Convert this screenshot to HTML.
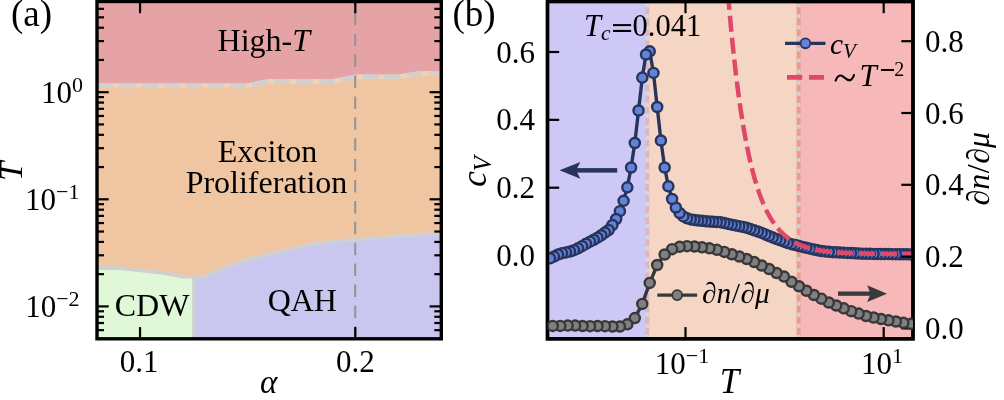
<!DOCTYPE html>
<html><head><meta charset="utf-8"><style>
html,body{margin:0;padding:0;background:#fff;}
body{width:1004px;height:400px;overflow:hidden;}
svg{display:block;will-change:transform;}
</style></head><body>
<svg width="1004" height="400" viewBox="0 0 1004 400">
<rect x="0" y="0" width="1004" height="400" fill="#ffffff"/>
<defs><clipPath id="clipA"><rect x="97.00" y="1.50" width="344.30" height="337.30"/></clipPath><clipPath id="clipB"><rect x="547.50" y="1.50" width="365.50" height="337.30"/></clipPath></defs>
<g clip-path="url(#clipA)">
<polygon fill="#e5a3a5" points="97.00,0.00 97.00,85.50 247.60,85.50 269.20,81.30 333.80,81.30 355.30,76.90 398.40,76.90 419.90,73.30 441.40,73.30 441.40,0.00"/>
<polygon fill="#f0c5a2" points="97.00,85.50 247.60,85.50 269.20,81.30 333.80,81.30 355.30,76.90 398.40,76.90 419.90,73.30 441.40,73.30 441.40,233.60 419.90,234.70 398.40,235.90 376.80,237.60 355.30,239.60 333.80,241.60 312.30,243.80 290.70,249.30 269.20,254.10 247.60,259.60 226.10,267.10 204.50,276.80 183.00,276.60 161.50,272.70 140.00,270.30 118.50,267.90 97.00,268.00"/>
<polygon fill="#e0f8d7" points="97.00,268.00 118.50,267.90 140.00,270.30 161.50,272.70 183.00,276.60 194.20,276.70 194.20,340.00 97.00,340.00"/>
<polygon fill="#c9c6f0" points="194.20,276.70 204.50,276.80 226.10,267.10 247.60,259.60 269.20,254.10 290.70,249.30 312.30,243.80 333.80,241.60 355.30,239.60 376.80,237.60 398.40,235.90 419.90,234.70 441.40,233.60 441.40,340.00 194.20,340.00"/>
<polyline fill="none" stroke="#d0d0d0" stroke-width="3.8" stroke-linejoin="round" points="97.00,268.00 118.50,267.90 140.00,270.30 161.50,272.70 183.00,276.60 204.50,276.80 226.10,267.10 247.60,259.60 269.20,254.10 290.70,249.30 312.30,243.80 333.80,241.60 355.30,239.60 376.80,237.60 398.40,235.90 419.90,234.70 441.40,233.60"/>
<line x1="194.20" y1="276.7" x2="194.20" y2="340" stroke="#d0d0d0" stroke-width="4"/>
<polyline fill="none" stroke="#efd3b8" stroke-width="4.7" points="97.00,85.50 247.60,85.50 269.20,81.30 333.80,81.30 355.30,76.90 398.40,76.90 419.90,73.30 441.40,73.30"/>
<polyline fill="none" stroke="#d0d0d0" stroke-width="4.7" stroke-dasharray="16 6.2" points="97.00,85.50 247.60,85.50 269.20,81.30 333.80,81.30 355.30,76.90 398.40,76.90 419.90,73.30 441.40,73.30"/>
<line x1="355.2" y1="338.8" x2="355.2" y2="1.5" stroke="#959595" stroke-width="2.1" stroke-dasharray="12.5 8.4"/>
</g>
<text x="263.80" y="50.60" font-family="'Liberation Serif', serif" font-size="32.00" text-anchor="middle" style="" >High-<tspan font-style="italic">T</tspan></text>
<text x="267.50" y="162.30" font-family="'Liberation Serif', serif" font-size="32.00" text-anchor="middle" style="" >Exciton</text>
<text x="266.50" y="192.70" font-family="'Liberation Serif', serif" font-size="32.00" text-anchor="middle" style="" >Proliferation</text>
<text x="152.00" y="315.60" font-family="'Liberation Serif', serif" font-size="32.00" text-anchor="middle" style="" >CDW</text>
<text x="302.30" y="310.90" font-family="'Liberation Serif', serif" font-size="32.00" text-anchor="middle" style="" >QAH</text>
<line x1="140.05" y1="338.80" x2="140.05" y2="327.10" stroke="#000000" stroke-width="2.20"/><line x1="140.05" y1="1.50" x2="140.05" y2="13.20" stroke="#000000" stroke-width="2.20"/><line x1="355.30" y1="338.80" x2="355.30" y2="327.10" stroke="#000000" stroke-width="2.20"/><line x1="355.30" y1="1.50" x2="355.30" y2="13.20" stroke="#000000" stroke-width="2.20"/><line x1="97.00" y1="330.16" x2="104.00" y2="330.16" stroke="#000000" stroke-width="2.20"/><line x1="441.30" y1="330.16" x2="434.30" y2="330.16" stroke="#000000" stroke-width="2.20"/><line x1="97.00" y1="322.99" x2="104.00" y2="322.99" stroke="#000000" stroke-width="2.20"/><line x1="441.30" y1="322.99" x2="434.30" y2="322.99" stroke="#000000" stroke-width="2.20"/><line x1="97.00" y1="316.78" x2="104.00" y2="316.78" stroke="#000000" stroke-width="2.20"/><line x1="441.30" y1="316.78" x2="434.30" y2="316.78" stroke="#000000" stroke-width="2.20"/><line x1="97.00" y1="311.30" x2="104.00" y2="311.30" stroke="#000000" stroke-width="2.20"/><line x1="441.30" y1="311.30" x2="434.30" y2="311.30" stroke="#000000" stroke-width="2.20"/><line x1="97.00" y1="306.40" x2="108.70" y2="306.40" stroke="#000000" stroke-width="2.20"/><line x1="441.30" y1="306.40" x2="429.60" y2="306.40" stroke="#000000" stroke-width="2.20"/><line x1="97.00" y1="274.16" x2="104.00" y2="274.16" stroke="#000000" stroke-width="2.20"/><line x1="441.30" y1="274.16" x2="434.30" y2="274.16" stroke="#000000" stroke-width="2.20"/><line x1="97.00" y1="255.30" x2="104.00" y2="255.30" stroke="#000000" stroke-width="2.20"/><line x1="441.30" y1="255.30" x2="434.30" y2="255.30" stroke="#000000" stroke-width="2.20"/><line x1="97.00" y1="241.92" x2="104.00" y2="241.92" stroke="#000000" stroke-width="2.20"/><line x1="441.30" y1="241.92" x2="434.30" y2="241.92" stroke="#000000" stroke-width="2.20"/><line x1="97.00" y1="231.54" x2="104.00" y2="231.54" stroke="#000000" stroke-width="2.20"/><line x1="441.30" y1="231.54" x2="434.30" y2="231.54" stroke="#000000" stroke-width="2.20"/><line x1="97.00" y1="223.06" x2="104.00" y2="223.06" stroke="#000000" stroke-width="2.20"/><line x1="441.30" y1="223.06" x2="434.30" y2="223.06" stroke="#000000" stroke-width="2.20"/><line x1="97.00" y1="215.89" x2="104.00" y2="215.89" stroke="#000000" stroke-width="2.20"/><line x1="441.30" y1="215.89" x2="434.30" y2="215.89" stroke="#000000" stroke-width="2.20"/><line x1="97.00" y1="209.68" x2="104.00" y2="209.68" stroke="#000000" stroke-width="2.20"/><line x1="441.30" y1="209.68" x2="434.30" y2="209.68" stroke="#000000" stroke-width="2.20"/><line x1="97.00" y1="204.20" x2="104.00" y2="204.20" stroke="#000000" stroke-width="2.20"/><line x1="441.30" y1="204.20" x2="434.30" y2="204.20" stroke="#000000" stroke-width="2.20"/><line x1="97.00" y1="199.30" x2="108.70" y2="199.30" stroke="#000000" stroke-width="2.20"/><line x1="441.30" y1="199.30" x2="429.60" y2="199.30" stroke="#000000" stroke-width="2.20"/><line x1="97.00" y1="167.06" x2="104.00" y2="167.06" stroke="#000000" stroke-width="2.20"/><line x1="441.30" y1="167.06" x2="434.30" y2="167.06" stroke="#000000" stroke-width="2.20"/><line x1="97.00" y1="148.20" x2="104.00" y2="148.20" stroke="#000000" stroke-width="2.20"/><line x1="441.30" y1="148.20" x2="434.30" y2="148.20" stroke="#000000" stroke-width="2.20"/><line x1="97.00" y1="134.82" x2="104.00" y2="134.82" stroke="#000000" stroke-width="2.20"/><line x1="441.30" y1="134.82" x2="434.30" y2="134.82" stroke="#000000" stroke-width="2.20"/><line x1="97.00" y1="124.44" x2="104.00" y2="124.44" stroke="#000000" stroke-width="2.20"/><line x1="441.30" y1="124.44" x2="434.30" y2="124.44" stroke="#000000" stroke-width="2.20"/><line x1="97.00" y1="115.96" x2="104.00" y2="115.96" stroke="#000000" stroke-width="2.20"/><line x1="441.30" y1="115.96" x2="434.30" y2="115.96" stroke="#000000" stroke-width="2.20"/><line x1="97.00" y1="108.79" x2="104.00" y2="108.79" stroke="#000000" stroke-width="2.20"/><line x1="441.30" y1="108.79" x2="434.30" y2="108.79" stroke="#000000" stroke-width="2.20"/><line x1="97.00" y1="102.58" x2="104.00" y2="102.58" stroke="#000000" stroke-width="2.20"/><line x1="441.30" y1="102.58" x2="434.30" y2="102.58" stroke="#000000" stroke-width="2.20"/><line x1="97.00" y1="97.10" x2="104.00" y2="97.10" stroke="#000000" stroke-width="2.20"/><line x1="441.30" y1="97.10" x2="434.30" y2="97.10" stroke="#000000" stroke-width="2.20"/><line x1="97.00" y1="92.20" x2="108.70" y2="92.20" stroke="#000000" stroke-width="2.20"/><line x1="441.30" y1="92.20" x2="429.60" y2="92.20" stroke="#000000" stroke-width="2.20"/><line x1="97.00" y1="59.96" x2="104.00" y2="59.96" stroke="#000000" stroke-width="2.20"/><line x1="441.30" y1="59.96" x2="434.30" y2="59.96" stroke="#000000" stroke-width="2.20"/><line x1="97.00" y1="41.10" x2="104.00" y2="41.10" stroke="#000000" stroke-width="2.20"/><line x1="441.30" y1="41.10" x2="434.30" y2="41.10" stroke="#000000" stroke-width="2.20"/><line x1="97.00" y1="27.72" x2="104.00" y2="27.72" stroke="#000000" stroke-width="2.20"/><line x1="441.30" y1="27.72" x2="434.30" y2="27.72" stroke="#000000" stroke-width="2.20"/><line x1="97.00" y1="17.34" x2="104.00" y2="17.34" stroke="#000000" stroke-width="2.20"/><line x1="441.30" y1="17.34" x2="434.30" y2="17.34" stroke="#000000" stroke-width="2.20"/><line x1="97.00" y1="8.86" x2="104.00" y2="8.86" stroke="#000000" stroke-width="2.20"/><line x1="441.30" y1="8.86" x2="434.30" y2="8.86" stroke="#000000" stroke-width="2.20"/>
<rect x="97.00" y="1.50" width="344.30" height="337.30" fill="none" stroke="#000" stroke-width="3.4"/>
<text x="139.20" y="372.30" font-family="'Liberation Serif', serif" font-size="31.00" text-anchor="middle" style="" >0.1</text>
<text x="355.30" y="372.30" font-family="'Liberation Serif', serif" font-size="31.00" text-anchor="middle" style="" >0.2</text>
<text x="83.00" y="103.20" font-family="'Liberation Serif', serif" font-size="31" text-anchor="end">10<tspan dy="-11" font-size="22">0</tspan></text>
<text x="79.50" y="210.30" font-family="'Liberation Serif', serif" font-size="31" text-anchor="end">10<tspan dy="-11" font-size="22">&#8722;1</tspan></text>
<text x="79.60" y="317.30" font-family="'Liberation Serif', serif" font-size="31" text-anchor="end">10<tspan dy="-11" font-size="22">&#8722;2</tspan></text>
<text x="268.60" y="393.00" font-family="'Liberation Serif', serif" font-size="33.00" text-anchor="middle" style="font-style:italic;" >&#945;</text>
<text transform="translate(22.3,171.5) rotate(-90)" x="0" y="0" font-family="'Liberation Serif', serif" font-size="34.5" font-style="italic" text-anchor="middle">T</text>
<text x="11.00" y="25.50" font-family="'Liberation Serif', serif" font-size="37.00" text-anchor="start" style="" >(a)</text>
<g clip-path="url(#clipB)">
<rect x="545.50" y="0" width="101.80" height="345" fill="#cdc8f5"/>
<rect x="647.30" y="0" width="151.30" height="345" fill="#f5d6c4"/>
<rect x="798.60" y="0" width="116.40" height="345" fill="#f6b8b9"/>
<line x1="647.30" y1="338.8" x2="647.30" y2="0" stroke="#dfb5c0" stroke-width="3.9"/>
<line x1="647.30" y1="338.8" x2="647.30" y2="0" stroke="#d7d7dc" stroke-width="3.9" stroke-dasharray="4.1 6.95"/>
<line x1="798.60" y1="338.8" x2="798.60" y2="0" stroke="#ee9a8c" stroke-width="4"/>
<line x1="798.60" y1="338.8" x2="798.60" y2="0" stroke="#cfd3d5" stroke-width="4" stroke-dasharray="4.1 6.95"/>
</g>
<line x1="685.50" y1="338.80" x2="685.50" y2="327.10" stroke="#000000" stroke-width="2.20"/><line x1="685.50" y1="1.50" x2="685.50" y2="13.20" stroke="#000000" stroke-width="2.20"/><line x1="883.70" y1="338.80" x2="883.70" y2="327.10" stroke="#000000" stroke-width="2.20"/><line x1="883.70" y1="1.50" x2="883.70" y2="13.20" stroke="#000000" stroke-width="2.20"/><line x1="547.50" y1="255.55" x2="559.20" y2="255.55" stroke="#000000" stroke-width="2.20"/><line x1="547.50" y1="187.70" x2="559.20" y2="187.70" stroke="#000000" stroke-width="2.20"/><line x1="547.50" y1="119.85" x2="559.20" y2="119.85" stroke="#000000" stroke-width="2.20"/><line x1="547.50" y1="52.00" x2="559.20" y2="52.00" stroke="#000000" stroke-width="2.20"/>
<rect x="547.50" y="1.50" width="365.50" height="337.30" fill="none" stroke="#000" stroke-width="3.4"/>
<g clip-path="url(#clipB)">
<g><polyline fill="none" stroke="#27345e" stroke-width="3.40" stroke-linejoin="round" points="550.00,258.30 554.00,256.60 558.01,254.51 562.02,253.15 566.02,252.41 570.02,251.48 574.03,250.19 578.03,248.32 582.04,246.13 586.05,243.73 590.05,241.66 593.78,239.74 597.51,237.67 601.24,235.27 604.97,232.62 608.70,230.00 612.43,225.00 616.16,219.00 619.89,211.20 623.62,200.80 627.35,187.30 631.08,167.50 634.81,143.00 638.54,110.50 642.27,77.60 646.00,54.50 649.73,51.30 653.46,72.90 657.19,107.00 660.92,140.50 664.65,167.50 668.38,186.30 672.11,199.00 675.84,207.50 679.57,213.00 683.30,216.40 687.03,218.30 690.76,219.39 694.49,220.10 698.22,220.48 701.95,220.86 705.68,221.24 709.41,221.50 713.14,221.75 716.87,221.99 720.60,222.33 724.33,223.11 728.06,223.89 731.79,224.66 735.52,225.40 739.25,226.15 742.98,226.90 746.71,227.86 750.44,229.08 754.17,230.30 757.90,231.51 761.63,232.88 765.36,234.45 769.09,236.02 772.82,237.58 776.55,239.05 780.28,240.37 784.01,241.68 787.74,243.00 791.47,244.16 795.20,245.08 798.93,246.00 802.66,246.92 806.39,247.81 810.12,248.63 813.85,249.45 817.58,250.27 821.31,250.96 825.04,251.40 828.77,251.85 832.50,252.13 836.23,252.32 839.96,252.51 843.69,252.70 847.42,252.90 851.15,253.09 854.88,253.28 858.61,253.47 862.34,253.66 866.07,253.81 869.80,253.86 873.53,253.91 877.26,253.96 880.99,254.00 884.72,254.05 888.45,254.10 892.18,254.15 895.91,254.19 899.64,254.24 903.37,254.29 907.10,254.34 910.83,254.39"/><g fill="#6384d6" stroke="#27345e" stroke-width="2.40"><circle cx="910.83" cy="254.39" r="5.05"/><circle cx="907.10" cy="254.34" r="5.05"/><circle cx="903.37" cy="254.29" r="5.05"/><circle cx="899.64" cy="254.24" r="5.05"/><circle cx="895.91" cy="254.19" r="5.05"/><circle cx="892.18" cy="254.15" r="5.05"/><circle cx="888.45" cy="254.10" r="5.05"/><circle cx="884.72" cy="254.05" r="5.05"/><circle cx="880.99" cy="254.00" r="5.05"/><circle cx="877.26" cy="253.96" r="5.05"/><circle cx="873.53" cy="253.91" r="5.05"/><circle cx="869.80" cy="253.86" r="5.05"/><circle cx="866.07" cy="253.81" r="5.05"/><circle cx="862.34" cy="253.66" r="5.05"/><circle cx="858.61" cy="253.47" r="5.05"/><circle cx="854.88" cy="253.28" r="5.05"/><circle cx="851.15" cy="253.09" r="5.05"/><circle cx="847.42" cy="252.90" r="5.05"/><circle cx="843.69" cy="252.70" r="5.05"/><circle cx="839.96" cy="252.51" r="5.05"/><circle cx="836.23" cy="252.32" r="5.05"/><circle cx="832.50" cy="252.13" r="5.05"/><circle cx="828.77" cy="251.85" r="5.05"/><circle cx="825.04" cy="251.40" r="5.05"/><circle cx="821.31" cy="250.96" r="5.05"/><circle cx="817.58" cy="250.27" r="5.05"/><circle cx="813.85" cy="249.45" r="5.05"/><circle cx="810.12" cy="248.63" r="5.05"/><circle cx="806.39" cy="247.81" r="5.05"/><circle cx="802.66" cy="246.92" r="5.05"/><circle cx="798.93" cy="246.00" r="5.05"/><circle cx="795.20" cy="245.08" r="5.05"/><circle cx="791.47" cy="244.16" r="5.05"/><circle cx="787.74" cy="243.00" r="5.05"/><circle cx="784.01" cy="241.68" r="5.05"/><circle cx="780.28" cy="240.37" r="5.05"/><circle cx="776.55" cy="239.05" r="5.05"/><circle cx="772.82" cy="237.58" r="5.05"/><circle cx="769.09" cy="236.02" r="5.05"/><circle cx="765.36" cy="234.45" r="5.05"/><circle cx="761.63" cy="232.88" r="5.05"/><circle cx="757.90" cy="231.51" r="5.05"/><circle cx="754.17" cy="230.30" r="5.05"/><circle cx="750.44" cy="229.08" r="5.05"/><circle cx="746.71" cy="227.86" r="5.05"/><circle cx="742.98" cy="226.90" r="5.05"/><circle cx="739.25" cy="226.15" r="5.05"/><circle cx="735.52" cy="225.40" r="5.05"/><circle cx="731.79" cy="224.66" r="5.05"/><circle cx="728.06" cy="223.89" r="5.05"/><circle cx="724.33" cy="223.11" r="5.05"/><circle cx="720.60" cy="222.33" r="5.05"/><circle cx="716.87" cy="221.99" r="5.05"/><circle cx="713.14" cy="221.75" r="5.05"/><circle cx="709.41" cy="221.50" r="5.05"/><circle cx="705.68" cy="221.24" r="5.05"/><circle cx="701.95" cy="220.86" r="5.05"/><circle cx="698.22" cy="220.48" r="5.05"/><circle cx="694.49" cy="220.10" r="5.05"/><circle cx="690.76" cy="219.39" r="5.05"/><circle cx="687.03" cy="218.30" r="5.05"/><circle cx="683.30" cy="216.40" r="5.05"/><circle cx="679.57" cy="213.00" r="5.05"/><circle cx="675.84" cy="207.50" r="5.05"/><circle cx="672.11" cy="199.00" r="5.05"/><circle cx="668.38" cy="186.30" r="5.05"/><circle cx="664.65" cy="167.50" r="5.05"/><circle cx="660.92" cy="140.50" r="5.05"/><circle cx="657.19" cy="107.00" r="5.05"/><circle cx="653.46" cy="72.90" r="5.05"/><circle cx="649.73" cy="51.30" r="5.05"/><circle cx="646.00" cy="54.50" r="5.05"/><circle cx="642.27" cy="77.60" r="5.05"/><circle cx="638.54" cy="110.50" r="5.05"/><circle cx="634.81" cy="143.00" r="5.05"/><circle cx="631.08" cy="167.50" r="5.05"/><circle cx="627.35" cy="187.30" r="5.05"/><circle cx="623.62" cy="200.80" r="5.05"/><circle cx="619.89" cy="211.20" r="5.05"/><circle cx="616.16" cy="219.00" r="5.05"/><circle cx="612.43" cy="225.00" r="5.05"/><circle cx="608.70" cy="230.00" r="5.05"/><circle cx="604.97" cy="232.62" r="5.05"/><circle cx="601.24" cy="235.27" r="5.05"/><circle cx="597.51" cy="237.67" r="5.05"/><circle cx="593.78" cy="239.74" r="5.05"/><circle cx="590.05" cy="241.66" r="5.05"/><circle cx="586.05" cy="243.73" r="5.05"/><circle cx="582.04" cy="246.13" r="5.05"/><circle cx="578.03" cy="248.32" r="5.05"/><circle cx="574.03" cy="250.19" r="5.05"/><circle cx="570.02" cy="251.48" r="5.05"/><circle cx="566.02" cy="252.41" r="5.05"/><circle cx="562.02" cy="253.15" r="5.05"/><circle cx="558.01" cy="254.51" r="5.05"/><circle cx="554.00" cy="256.60" r="5.05"/><circle cx="550.00" cy="258.30" r="5.05"/></g></g>
<polyline fill="none" stroke="#e0486a" stroke-width="4.5" stroke-dasharray="16.1 5.9" stroke-dashoffset="14.35" points="720.00,-123.51 720.16,-120.67 720.33,-117.85 720.49,-115.05 720.65,-112.27 720.81,-109.51 720.98,-106.78 721.14,-104.06 721.30,-101.36 721.46,-98.69 721.63,-96.03 721.79,-93.39 721.95,-90.78 722.11,-88.18 722.28,-85.61 722.44,-83.05 722.60,-80.51 722.76,-77.99 722.93,-75.49 723.09,-73.01 723.25,-70.55 723.42,-68.10 723.58,-65.68 723.74,-63.27 723.90,-60.88 724.07,-58.51 724.23,-56.16 724.39,-53.82 724.55,-51.50 724.72,-49.20 724.88,-46.92 725.04,-44.66 725.20,-42.41 725.37,-40.17 725.53,-37.96 725.69,-35.76 725.85,-33.58 726.02,-31.41 726.18,-29.26 726.34,-27.13 726.51,-25.01 726.67,-22.91 726.83,-20.83 726.99,-18.76 727.16,-16.70 727.32,-14.67 727.48,-12.64 727.64,-10.63 727.81,-8.64 727.97,-6.66 728.13,-4.70 728.29,-2.75 728.46,-0.82 728.62,1.10 728.78,3.00 728.94,4.89 729.11,6.77 729.27,8.63 729.43,10.48 729.60,12.31 729.76,14.13 729.92,15.94 730.08,17.73 730.25,19.51 730.41,21.28 730.57,23.03 730.73,24.77 730.90,26.50 731.06,28.21 731.22,29.91 731.38,31.60 731.55,33.27 731.71,34.93 731.87,36.58 732.04,38.22 732.20,39.85 732.36,41.46 732.52,43.06 732.69,44.65 732.85,46.22 733.01,47.79 733.17,49.34 733.34,50.88 733.50,52.41 733.66,53.93 733.82,55.44 733.99,56.93 734.15,58.42 734.31,59.89 734.47,61.35 734.64,62.80 734.80,64.24 734.96,65.67 735.13,67.09 735.29,68.50 735.45,69.89 735.61,71.28 735.78,72.66 735.94,74.02 736.10,75.38 736.26,76.72 736.43,78.06 736.59,79.38 736.75,80.70 736.91,82.00 737.08,83.30 737.24,84.58 737.40,85.86 737.56,87.13 737.73,88.38 737.89,89.63 738.05,90.87 738.22,92.10 738.38,93.32 738.54,94.53 738.70,95.73 738.87,96.92 739.03,98.10 739.19,99.28 739.35,100.44 739.52,101.60 739.68,102.74 739.84,103.88 740.00,105.01 740.17,106.14 740.33,107.25 740.49,108.36 740.65,109.45 740.82,110.54 740.98,111.62 741.14,112.69 741.31,113.76 741.47,114.81 741.63,115.86 741.79,116.90 741.96,117.94 742.12,118.96 742.28,119.98 742.44,120.99 742.61,121.99 742.77,122.98 742.93,123.97 743.09,124.95 743.26,125.92 743.42,126.89 743.58,127.84 743.74,128.79 743.91,129.74 744.07,130.67 744.23,131.60 744.40,132.52 744.56,133.44 744.72,134.35 744.88,135.25 745.05,136.14 745.21,137.03 745.37,137.91 745.53,138.78 745.70,139.65 745.86,140.51 746.02,141.37 746.18,142.22 746.35,143.06 746.51,143.89 746.67,144.72 746.83,145.55 747.00,146.36 747.16,147.17 747.32,147.98 747.49,148.78 747.65,149.57 747.81,150.36 747.97,151.14 748.14,151.91 748.30,152.68 748.46,153.44 748.62,154.20 748.79,154.95 748.95,155.70 749.11,156.44 749.27,157.17 749.44,157.90 749.60,158.63 749.76,159.35 749.92,160.06 750.09,160.77 750.25,161.47 750.41,162.17 750.58,162.86 750.74,163.54 750.90,164.22 751.06,164.90 751.23,165.57 751.39,166.24 751.55,166.90 751.71,167.56 751.88,168.21 752.04,168.85 752.20,169.49 752.36,170.13 752.53,170.76 752.69,171.39 752.85,172.01 753.02,172.63 753.18,173.24 753.34,173.85 753.50,174.45 753.67,175.05 753.83,175.65 753.99,176.24 754.15,176.82 754.32,177.41 754.48,177.98 754.64,178.56 754.80,179.12 754.97,179.69 755.13,180.25 755.29,180.80 755.45,181.35 755.62,181.90 755.78,182.45 755.94,182.98 756.11,183.52 756.27,184.05 756.43,184.58 756.59,185.10 756.76,185.62 756.92,186.13 757.08,186.65 757.24,187.15 757.41,187.66 757.57,188.16 757.73,188.65 757.89,189.14 758.06,189.63 758.22,190.12 758.38,190.60 758.54,191.08 758.71,191.55 758.87,192.02 759.03,192.49 759.20,192.95 759.36,193.41 759.52,193.87 759.68,194.32 759.85,194.77 760.01,195.22 760.17,195.66 760.33,196.10 760.50,196.54 760.66,196.97 760.82,197.40 760.98,197.83 761.15,198.25 761.31,198.67 761.47,199.09 761.63,199.50 761.80,199.91 761.96,200.32 762.12,200.72 762.29,201.12 762.45,201.52 762.61,201.92 762.77,202.31 762.94,202.70 763.10,203.09 763.26,203.47 763.42,203.85 763.59,204.23 763.75,204.60 763.91,204.98 764.07,205.34 764.24,205.71 764.40,206.08 764.56,206.44 764.72,206.79 764.89,207.15 765.05,207.50 765.21,207.85 765.38,208.20 765.54,208.55 765.70,208.89 765.86,209.23 766.03,209.57 766.19,209.90 766.35,210.23 766.51,210.56 766.68,210.89 766.84,211.22 767.00,211.54 767.16,211.86 767.33,212.18 767.49,212.49 767.65,212.80 767.81,213.11 767.98,213.42 768.14,213.73 768.30,214.03 768.47,214.33 768.63,214.63 768.79,214.93 768.95,215.22 769.12,215.52 769.28,215.81 769.44,216.09 769.60,216.38 769.77,216.66 769.93,216.94 770.09,217.22 770.25,217.50 770.42,217.78 770.58,218.05 770.74,218.32 770.90,218.59 771.07,218.86 771.23,219.12 771.39,219.38 771.56,219.64 771.72,219.90 771.88,220.16 772.04,220.42 772.21,220.67 772.37,220.92 772.53,221.17 772.69,221.42 772.86,221.66 773.02,221.91 773.18,222.15 773.34,222.39 773.51,222.63 773.67,222.86 773.83,223.10 773.99,223.33 774.16,223.56 774.32,223.79 774.48,224.02 774.65,224.25 774.81,224.47 774.97,224.69 775.13,224.91 775.30,225.13 775.46,225.35 775.62,225.57 775.78,225.78 775.95,225.99 776.11,226.20 776.27,226.41 776.43,226.62 776.60,226.83 776.76,227.03 776.92,227.24 777.09,227.44 777.25,227.64 777.41,227.84 777.57,228.04 777.74,228.23 777.90,228.43 778.06,228.62 778.22,228.81 778.39,229.00 778.55,229.19 778.71,229.38 778.87,229.56 779.04,229.75 779.20,229.93 779.36,230.11 779.52,230.29 779.69,230.47 779.85,230.65 780.01,230.82 780.18,231.00 780.34,231.17 780.50,231.34 780.66,231.51 780.83,231.68 780.99,231.85 781.15,232.02 781.31,232.18 781.48,232.35 781.64,232.51 781.80,232.67 781.96,232.84 782.13,232.99 782.29,233.15 782.45,233.31 782.61,233.47 782.78,233.62 782.94,233.78 783.10,233.93 783.27,234.08 783.43,234.23 783.59,234.38 783.75,234.53 783.92,234.67 784.08,234.82 784.24,234.96 784.40,235.11 784.57,235.25 784.73,235.39 784.89,235.53 785.05,235.67 785.22,235.81 785.38,235.95 785.54,236.08 785.70,236.22 785.87,236.35 786.03,236.49 786.19,236.62 786.36,236.75 786.52,236.88 786.68,237.01 786.84,237.14 787.01,237.26 787.17,237.39 787.33,237.52 787.49,237.64 787.66,237.76 787.82,237.89 787.98,238.01 788.14,238.13 788.31,238.25 788.47,238.37 788.63,238.49 788.79,238.60 788.96,238.72 789.12,238.83 789.28,238.95 789.45,239.06 789.61,239.17 789.77,239.29 789.93,239.40 790.10,239.51 790.26,239.62 790.42,239.73 790.58,239.83 790.75,239.94 790.91,240.05 791.07,240.15 791.23,240.26 791.40,240.36 791.56,240.46 791.72,240.57 791.88,240.67 792.05,240.77 792.21,240.87 792.37,240.97 792.54,241.07 792.70,241.16 792.86,241.26 793.02,241.36 793.19,241.45 793.35,241.55 793.51,241.64 793.67,241.73 793.84,241.83 794.00,241.92 794.16,242.01 794.32,242.10 794.49,242.19 794.65,242.28 794.81,242.37 794.97,242.46 795.14,242.54 795.30,242.63 795.46,242.72 795.63,242.80 795.79,242.89 795.95,242.97 796.11,243.05 796.28,243.14 796.44,243.22 796.60,243.30 796.76,243.38 796.93,243.46 797.09,243.54 797.25,243.62 797.41,243.70 797.58,243.78 797.74,243.85 797.90,243.93 798.07,244.01 798.23,244.08 798.39,244.16 798.55,244.23 798.72,244.30 798.88,244.38 799.04,244.45 799.20,244.52 799.37,244.59 799.53,244.67 799.69,244.74 799.85,244.81 800.02,244.88 800.18,244.94 800.34,245.01 800.50,245.08 800.67,245.15 800.83,245.22 800.99,245.28 801.16,245.35 801.32,245.41 801.48,245.48 801.64,245.54 801.81,245.61 801.97,245.67 802.13,245.73 802.29,245.80 802.46,245.86 802.62,245.92 802.78,245.98 802.94,246.04 803.11,246.10 803.27,246.16 803.43,246.22 803.59,246.28 803.76,246.34 803.92,246.40 804.08,246.45 804.25,246.51 804.41,246.57 804.57,246.62 804.73,246.68 804.90,246.73 805.06,246.79 805.22,246.84 805.38,246.90 805.55,246.95 805.71,247.01 805.87,247.06 806.03,247.11 806.20,247.16 806.36,247.22 806.52,247.27 806.68,247.32 806.85,247.37 807.01,247.42 807.17,247.47 807.34,247.52 807.50,247.57 807.66,247.62 807.82,247.66 807.99,247.71 808.15,247.76 808.31,247.81 808.47,247.85 808.64,247.90 808.80,247.95 808.96,247.99 809.12,248.04 809.29,248.08 809.45,248.13 809.61,248.17 809.77,248.22 809.94,248.26 810.10,248.30 810.26,248.35 810.43,248.39 810.59,248.43 810.75,248.48 810.91,248.52 811.08,248.56 811.24,248.60 811.40,248.64 811.56,248.68 811.73,248.72 811.89,248.76 812.05,248.80 812.21,248.84 812.38,248.88 812.54,248.92 812.70,248.96 812.86,249.00 813.03,249.03 813.19,249.07 813.35,249.11 813.52,249.15 813.68,249.18 813.84,249.22 814.00,249.26 814.17,249.29 814.33,249.33 814.49,249.36 814.65,249.40 814.82,249.43 814.98,249.47 815.14,249.50 815.30,249.54 815.47,249.57 815.63,249.60 815.79,249.64 815.95,249.67 816.12,249.70 816.28,249.74 816.44,249.77 816.61,249.80 816.77,249.83 816.93,249.86 817.09,249.90 817.26,249.93 817.42,249.96 817.58,249.99 817.74,250.02 817.91,250.05 818.07,250.08 818.23,250.11 818.39,250.14 818.56,250.17 818.72,250.20 818.88,250.23 819.05,250.26 819.21,250.28 819.37,250.31 819.53,250.34 819.70,250.37 819.86,250.40 820.02,250.42 820.18,250.45 820.35,250.48 820.51,250.50 820.67,250.53 820.83,250.56 821.00,250.58 821.16,250.61 821.32,250.64 821.48,250.66 821.65,250.69 821.81,250.71 821.97,250.74 822.14,250.76 822.30,250.79 822.46,250.81 822.62,250.83 822.79,250.86 822.95,250.88 823.11,250.91 823.27,250.93 823.44,250.95 823.60,250.98 823.76,251.00 823.92,251.02 824.09,251.05 824.25,251.07 824.41,251.09 824.57,251.11 824.74,251.13 824.90,251.16 825.06,251.18 825.23,251.20 825.39,251.22 825.55,251.24 825.71,251.26 825.88,251.28 826.04,251.31 826.20,251.33 826.36,251.35 826.53,251.37 826.69,251.39 826.85,251.41 827.01,251.43 827.18,251.45 827.34,251.47 827.50,251.49 827.66,251.50 827.83,251.52 827.99,251.54 828.15,251.56 828.32,251.58 828.48,251.60 828.64,251.62 828.80,251.64 828.97,251.65 829.13,251.67 829.29,251.69 829.45,251.71 829.62,251.72 829.78,251.74 829.94,251.76 830.10,251.78 830.27,251.79 830.43,251.81 830.59,251.83 830.75,251.84 830.92,251.86 831.08,251.88 831.24,251.89 831.41,251.91 831.57,251.93 831.73,251.94 831.89,251.96 832.06,251.97 832.22,251.99 832.38,252.00 832.54,252.02 832.71,252.03 832.87,252.05 833.03,252.06 833.19,252.08 833.36,252.09 833.52,252.11 833.68,252.12 833.84,252.14 834.01,252.15 834.17,252.17 834.33,252.18 834.50,252.19 834.66,252.21 834.82,252.22 834.98,252.24 835.15,252.25 835.31,252.26 835.47,252.28 835.63,252.29 835.80,252.30 835.96,252.32 836.12,252.33 836.28,252.34 836.45,252.35 836.61,252.37 836.77,252.38 836.93,252.39 837.10,252.40 837.26,252.42 837.42,252.43 837.59,252.44 837.75,252.45 837.91,252.47 838.07,252.48 838.24,252.49 838.40,252.50 838.56,252.51 838.72,252.52 838.89,252.53 839.05,252.55 839.21,252.56 839.37,252.57 839.54,252.58 839.70,252.59 839.86,252.60 840.03,252.61 840.19,252.62 840.35,252.63 840.51,252.64 840.68,252.66 840.84,252.67 841.00,252.68 841.16,252.69 841.33,252.70 841.49,252.71 841.65,252.72 841.81,252.73 841.98,252.74 842.14,252.75 842.30,252.76 842.46,252.77 842.63,252.78 842.79,252.78 842.95,252.79 843.12,252.80 843.28,252.81 843.44,252.82 843.60,252.83 843.77,252.84 843.93,252.85 844.09,252.86 844.25,252.87 844.42,252.88 844.58,252.88 844.74,252.89 844.90,252.90 845.07,252.91 845.23,252.92 845.39,252.93 845.55,252.94 845.72,252.94 845.88,252.95 846.04,252.96 846.21,252.97 846.37,252.98 846.53,252.99 846.69,252.99 846.86,253.00 847.02,253.01 847.18,253.02 847.34,253.02 847.51,253.03 847.67,253.04 847.83,253.05 847.99,253.05 848.16,253.06 848.32,253.07 848.48,253.08 848.64,253.08 848.81,253.09 848.97,253.10 849.13,253.11 849.30,253.11 849.46,253.12 849.62,253.13 849.78,253.13 849.95,253.14 850.11,253.15 850.27,253.15 850.43,253.16 850.60,253.17 850.76,253.17 850.92,253.18 851.08,253.19 851.25,253.19 851.41,253.20 851.57,253.21 851.73,253.21 851.90,253.22 852.06,253.22 852.22,253.23 852.39,253.24 852.55,253.24 852.71,253.25 852.87,253.25 853.04,253.26 853.20,253.27 853.36,253.27 853.52,253.28 853.69,253.28 853.85,253.29 854.01,253.29 854.17,253.30 854.34,253.31 854.50,253.31 854.66,253.32 854.82,253.32 854.99,253.33 855.15,253.33 855.31,253.34 855.48,253.34 855.64,253.35 855.80,253.35 855.96,253.36 856.13,253.36 856.29,253.37 856.45,253.37 856.61,253.38 856.78,253.38 856.94,253.39 857.10,253.39 857.26,253.40 857.43,253.40 857.59,253.41 857.75,253.41 857.91,253.42 858.08,253.42 858.24,253.43 858.40,253.43 858.57,253.44 858.73,253.44 858.89,253.45 859.05,253.45 859.22,253.46 859.38,253.46 859.54,253.46 859.70,253.47 859.87,253.47 860.03,253.48 860.19,253.48 860.35,253.49 860.52,253.49 860.68,253.49 860.84,253.50 861.01,253.50 861.17,253.51 861.33,253.51 861.49,253.51 861.66,253.52 861.82,253.52 861.98,253.53 862.14,253.53 862.31,253.53 862.47,253.54 862.63,253.54 862.79,253.54 862.96,253.55 863.12,253.55 863.28,253.56 863.44,253.56 863.61,253.56 863.77,253.57 863.93,253.57 864.10,253.57 864.26,253.58 864.42,253.58 864.58,253.58 864.75,253.59 864.91,253.59 865.07,253.59 865.23,253.60 865.40,253.60 865.56,253.60 865.72,253.61 865.88,253.61 866.05,253.61 866.21,253.62 866.37,253.62 866.53,253.62 866.70,253.63 866.86,253.63 867.02,253.63 867.19,253.64 867.35,253.64 867.51,253.64 867.67,253.65 867.84,253.65 868.00,253.65 868.16,253.65 868.32,253.66 868.49,253.66 868.65,253.66 868.81,253.67 868.97,253.67 869.14,253.67 869.30,253.67 869.46,253.68 869.62,253.68 869.79,253.68 869.95,253.68 870.11,253.69 870.28,253.69 870.44,253.69 870.60,253.70 870.76,253.70 870.93,253.70 871.09,253.70 871.25,253.71 871.41,253.71 871.58,253.71 871.74,253.71 871.90,253.72 872.06,253.72 872.23,253.72 872.39,253.72 872.55,253.73 872.71,253.73 872.88,253.73 873.04,253.73 873.20,253.73 873.37,253.74 873.53,253.74 873.69,253.74 873.85,253.74 874.02,253.75 874.18,253.75 874.34,253.75 874.50,253.75 874.67,253.75 874.83,253.76 874.99,253.76 875.15,253.76 875.32,253.76 875.48,253.77 875.64,253.77 875.80,253.77 875.97,253.77 876.13,253.77 876.29,253.78 876.46,253.78 876.62,253.78 876.78,253.78 876.94,253.78 877.11,253.79 877.27,253.79 877.43,253.79 877.59,253.79 877.76,253.79 877.92,253.79 878.08,253.80 878.24,253.80 878.41,253.80 878.57,253.80 878.73,253.80 878.89,253.81 879.06,253.81 879.22,253.81 879.38,253.81 879.55,253.81 879.71,253.81 879.87,253.82 880.03,253.82 880.20,253.82 880.36,253.82 880.52,253.82 880.68,253.82 880.85,253.83 881.01,253.83 881.17,253.83 881.33,253.83 881.50,253.83 881.66,253.83 881.82,253.84 881.98,253.84 882.15,253.84 882.31,253.84 882.47,253.84 882.64,253.84 882.80,253.84 882.96,253.85 883.12,253.85 883.29,253.85 883.45,253.85 883.61,253.85 883.77,253.85 883.94,253.85 884.10,253.86 884.26,253.86 884.42,253.86 884.59,253.86 884.75,253.86 884.91,253.86 885.08,253.86 885.24,253.87 885.40,253.87 885.56,253.87 885.73,253.87 885.89,253.87 886.05,253.87 886.21,253.87 886.38,253.87 886.54,253.88 886.70,253.88 886.86,253.88 887.03,253.88 887.19,253.88 887.35,253.88 887.51,253.88 887.68,253.88 887.84,253.89 888.00,253.89 888.17,253.89 888.33,253.89 888.49,253.89 888.65,253.89 888.82,253.89 888.98,253.89 889.14,253.89 889.30,253.90 889.47,253.90 889.63,253.90 889.79,253.90 889.95,253.90 890.12,253.90 890.28,253.90 890.44,253.90 890.60,253.90 890.77,253.91 890.93,253.91 891.09,253.91 891.26,253.91 891.42,253.91 891.58,253.91 891.74,253.91 891.91,253.91 892.07,253.91 892.23,253.91 892.39,253.92 892.56,253.92 892.72,253.92 892.88,253.92 893.04,253.92 893.21,253.92 893.37,253.92 893.53,253.92 893.69,253.92 893.86,253.92 894.02,253.92 894.18,253.93 894.35,253.93 894.51,253.93 894.67,253.93 894.83,253.93 895.00,253.93 895.16,253.93 895.32,253.93 895.48,253.93 895.65,253.93 895.81,253.93 895.97,253.93 896.13,253.94 896.30,253.94 896.46,253.94 896.62,253.94 896.78,253.94 896.95,253.94 897.11,253.94 897.27,253.94 897.44,253.94 897.60,253.94 897.76,253.94 897.92,253.94 898.09,253.94 898.25,253.94 898.41,253.95 898.57,253.95 898.74,253.95 898.90,253.95 899.06,253.95 899.22,253.95 899.39,253.95 899.55,253.95 899.71,253.95 899.87,253.95 900.04,253.95 900.20,253.95 900.36,253.95 900.53,253.95 900.69,253.96 900.85,253.96 901.01,253.96 901.18,253.96 901.34,253.96 901.50,253.96 901.66,253.96 901.83,253.96 901.99,253.96 902.15,253.96 902.31,253.96 902.48,253.96 902.64,253.96 902.80,253.96 902.96,253.96 903.13,253.96 903.29,253.96 903.45,253.97 903.62,253.97 903.78,253.97 903.94,253.97 904.10,253.97 904.27,253.97 904.43,253.97 904.59,253.97 904.75,253.97 904.92,253.97 905.08,253.97 905.24,253.97 905.40,253.97 905.57,253.97 905.73,253.97 905.89,253.97 906.06,253.97 906.22,253.97 906.38,253.97 906.54,253.98 906.71,253.98 906.87,253.98 907.03,253.98 907.19,253.98 907.36,253.98 907.52,253.98 907.68,253.98 907.84,253.98 908.01,253.98 908.17,253.98 908.33,253.98 908.49,253.98 908.66,253.98 908.82,253.98 908.98,253.98 909.15,253.98 909.31,253.98 909.47,253.98 909.63,253.98 909.80,253.98 909.96,253.98 910.12,253.99 910.28,253.99 910.45,253.99 910.61,253.99 910.77,253.99 910.93,253.99 911.10,253.99 911.26,253.99 911.42,253.99 911.58,253.99 911.75,253.99 911.91,253.99 912.07,253.99 912.24,253.99 912.40,253.99 912.56,253.99 912.72,253.99 912.89,253.99 913.05,253.99 913.21,253.99 913.37,253.99 913.54,253.99 913.70,253.99 913.86,253.99 914.02,253.99 914.19,253.99 914.35,254.00 914.51,254.00 914.67,254.00 914.84,254.00 915.00,254.00"/>
</g>
<line x1="913.00" y1="328.40" x2="901.30" y2="328.40" stroke="#000000" stroke-width="2.20"/><line x1="913.00" y1="256.60" x2="901.30" y2="256.60" stroke="#000000" stroke-width="2.20"/><line x1="913.00" y1="184.80" x2="901.30" y2="184.80" stroke="#000000" stroke-width="2.20"/><line x1="913.00" y1="113.00" x2="901.30" y2="113.00" stroke="#000000" stroke-width="2.20"/><line x1="913.00" y1="41.20" x2="901.30" y2="41.20" stroke="#000000" stroke-width="2.20"/>
<rect x="547.50" y="1.50" width="365.50" height="337.30" fill="none" stroke="#000" stroke-width="3.4"/>
<g clip-path="url(#clipB)">
<g><polyline fill="none" stroke="#383838" stroke-width="3.40" stroke-linejoin="round" points="552.75,325.90 560.21,325.90 567.67,325.60 575.13,325.60 582.59,326.00 590.05,326.20 597.51,326.00 604.97,326.20 612.43,326.50 619.89,326.50 627.35,324.30 634.81,318.10 642.27,303.90 649.73,282.90 657.19,265.00 664.65,254.50 672.11,249.20 679.57,246.80 687.03,246.20 694.49,246.50 701.95,247.25 709.41,248.30 716.87,249.80 724.33,251.90 731.79,254.25 739.25,256.50 746.71,259.00 754.17,262.00 761.63,265.50 769.09,269.00 776.55,273.00 784.01,276.60 791.47,281.75 798.93,286.25 806.39,290.75 813.85,295.00 821.31,298.70 828.77,302.50 836.23,305.50 843.69,308.30 851.15,311.20 858.61,313.60 866.07,316.00 873.53,317.50 880.99,319.00 888.45,320.30 895.91,321.50 903.37,322.80 910.83,323.80"/><g fill="#808080" stroke="#383838" stroke-width="2.40"><circle cx="910.83" cy="323.80" r="5.05"/><circle cx="903.37" cy="322.80" r="5.05"/><circle cx="895.91" cy="321.50" r="5.05"/><circle cx="888.45" cy="320.30" r="5.05"/><circle cx="880.99" cy="319.00" r="5.05"/><circle cx="873.53" cy="317.50" r="5.05"/><circle cx="866.07" cy="316.00" r="5.05"/><circle cx="858.61" cy="313.60" r="5.05"/><circle cx="851.15" cy="311.20" r="5.05"/><circle cx="843.69" cy="308.30" r="5.05"/><circle cx="836.23" cy="305.50" r="5.05"/><circle cx="828.77" cy="302.50" r="5.05"/><circle cx="821.31" cy="298.70" r="5.05"/><circle cx="813.85" cy="295.00" r="5.05"/><circle cx="806.39" cy="290.75" r="5.05"/><circle cx="798.93" cy="286.25" r="5.05"/><circle cx="791.47" cy="281.75" r="5.05"/><circle cx="784.01" cy="276.60" r="5.05"/><circle cx="776.55" cy="273.00" r="5.05"/><circle cx="769.09" cy="269.00" r="5.05"/><circle cx="761.63" cy="265.50" r="5.05"/><circle cx="754.17" cy="262.00" r="5.05"/><circle cx="746.71" cy="259.00" r="5.05"/><circle cx="739.25" cy="256.50" r="5.05"/><circle cx="731.79" cy="254.25" r="5.05"/><circle cx="724.33" cy="251.90" r="5.05"/><circle cx="716.87" cy="249.80" r="5.05"/><circle cx="709.41" cy="248.30" r="5.05"/><circle cx="701.95" cy="247.25" r="5.05"/><circle cx="694.49" cy="246.50" r="5.05"/><circle cx="687.03" cy="246.20" r="5.05"/><circle cx="679.57" cy="246.80" r="5.05"/><circle cx="672.11" cy="249.20" r="5.05"/><circle cx="664.65" cy="254.50" r="5.05"/><circle cx="657.19" cy="265.00" r="5.05"/><circle cx="649.73" cy="282.90" r="5.05"/><circle cx="642.27" cy="303.90" r="5.05"/><circle cx="634.81" cy="318.10" r="5.05"/><circle cx="627.35" cy="324.30" r="5.05"/><circle cx="619.89" cy="326.50" r="5.05"/><circle cx="612.43" cy="326.50" r="5.05"/><circle cx="604.97" cy="326.20" r="5.05"/><circle cx="597.51" cy="326.00" r="5.05"/><circle cx="590.05" cy="326.20" r="5.05"/><circle cx="582.59" cy="326.00" r="5.05"/><circle cx="575.13" cy="325.60" r="5.05"/><circle cx="567.67" cy="325.60" r="5.05"/><circle cx="560.21" cy="325.90" r="5.05"/><circle cx="552.75" cy="325.90" r="5.05"/></g></g>
</g>
<g fill="#27345e"><rect x="575" y="168.1" width="42.2" height="4.5"/><polygon points="559.5,170.35 580.4,161.9 576,170.35 580.4,178.8"/></g>
<g fill="#3a3a3a"><rect x="838" y="291.5" width="34" height="4.3"/><polygon points="887,293.65 867.2,285.3 870.5,293.65 867.2,302"/></g>
<text x="584" y="35.8" font-family="'Liberation Serif', serif" font-size="30.5"><tspan font-style="italic">T</tspan><tspan font-style="italic" font-size="21.5" dy="4">c</tspan></text>
<rect x="613" y="24.1" width="18.1" height="2.0" fill="#000"/><rect x="613" y="29.9" width="18.1" height="2.1" fill="#000"/>
<text x="632.5" y="35.8" font-family="'Liberation Serif', serif" font-size="30.5">0.041</text>
<line x1="785" y1="43.4" x2="825.5" y2="43.4" stroke="#27345e" stroke-width="3.2"/>
<circle cx="805.4" cy="43.3" r="4.95" fill="#6384d6" stroke="#27345e" stroke-width="1.8"/>
<text x="830" y="53.5" font-family="'Liberation Serif', serif" font-size="29.5" font-style="italic">c<tspan font-size="21" dy="4">V</tspan></text>
<line x1="787" y1="77.35" x2="824" y2="77.35" stroke="#e0486a" stroke-width="4.6" stroke-dasharray="15.2 6.8"/>
<path d="M835.6,80.6 C837.2,75.6 840.2,74.4 843.2,76.6 C846.2,79 848.6,81.6 851.2,79.6 C852.6,78.6 853.4,77 854,75" fill="none" stroke="#000" stroke-width="2.1" stroke-linecap="round"/>
<text x="859.5" y="86" font-family="'Liberation Serif', serif" font-size="31" font-style="italic">T</text>
<rect x="881" y="69" width="13" height="2" fill="#000"/>
<text x="894.2" y="75.5" font-family="'Liberation Serif', serif" font-size="20">2</text>
<line x1="657.3" y1="295.1" x2="697.1" y2="295.1" stroke="#383838" stroke-width="3.2"/>
<circle cx="677.2" cy="295.1" r="4.95" fill="#808080" stroke="#383838" stroke-width="1.8"/>
<text x="702" y="302.8" font-family="'Liberation Serif', serif" font-size="29.5" font-style="italic">&#8706;n<tspan font-style="normal" dx="0.5">/</tspan><tspan dx="0.5">&#8706;&#956;</tspan></text>
<text x="535.00" y="266.05" font-family="'Liberation Serif', serif" font-size="31.00" text-anchor="end" style="" >0.0</text>
<text x="535.00" y="198.20" font-family="'Liberation Serif', serif" font-size="31.00" text-anchor="end" style="" >0.2</text>
<text x="535.00" y="130.35" font-family="'Liberation Serif', serif" font-size="31.00" text-anchor="end" style="" >0.4</text>
<text x="535.00" y="62.50" font-family="'Liberation Serif', serif" font-size="31.00" text-anchor="end" style="" >0.6</text>
<text x="925.00" y="338.90" font-family="'Liberation Serif', serif" font-size="31.00" text-anchor="start" style="" >0.0</text>
<text x="925.00" y="267.10" font-family="'Liberation Serif', serif" font-size="31.00" text-anchor="start" style="" >0.2</text>
<text x="925.00" y="195.30" font-family="'Liberation Serif', serif" font-size="31.00" text-anchor="start" style="" >0.4</text>
<text x="925.00" y="123.50" font-family="'Liberation Serif', serif" font-size="31.00" text-anchor="start" style="" >0.6</text>
<text x="925.00" y="51.70" font-family="'Liberation Serif', serif" font-size="31.00" text-anchor="start" style="" >0.8</text>
<text x="709.20" y="373.70" font-family="'Liberation Serif', serif" font-size="31" text-anchor="end">10<tspan dy="-11" font-size="22">&#8722;1</tspan></text>
<text x="903.00" y="373.70" font-family="'Liberation Serif', serif" font-size="31" text-anchor="end">10<tspan dy="-11" font-size="22">1</tspan></text>
<text x="729.50" y="393.00" font-family="'Liberation Serif', serif" font-size="35.00" text-anchor="middle" style="font-style:italic;" >T</text>
<text transform="translate(485.5,171.5) rotate(-90)" x="0" y="0" font-family="'Liberation Serif', serif" font-size="35" font-style="italic" text-anchor="middle">c<tspan font-size="24.5" dy="5">V</tspan></text>
<text transform="translate(989,168.75) rotate(-90)" x="0" y="0" font-family="'Liberation Serif', serif" font-size="32" font-style="italic" text-anchor="middle">&#8706;n<tspan font-style="normal" dx="0.5">/</tspan><tspan dx="0.5">&#8706;&#956;</tspan></text>
<text x="452.50" y="25.50" font-family="'Liberation Serif', serif" font-size="37.00" text-anchor="start" style="" >(b)</text>
</svg>
</body></html>
